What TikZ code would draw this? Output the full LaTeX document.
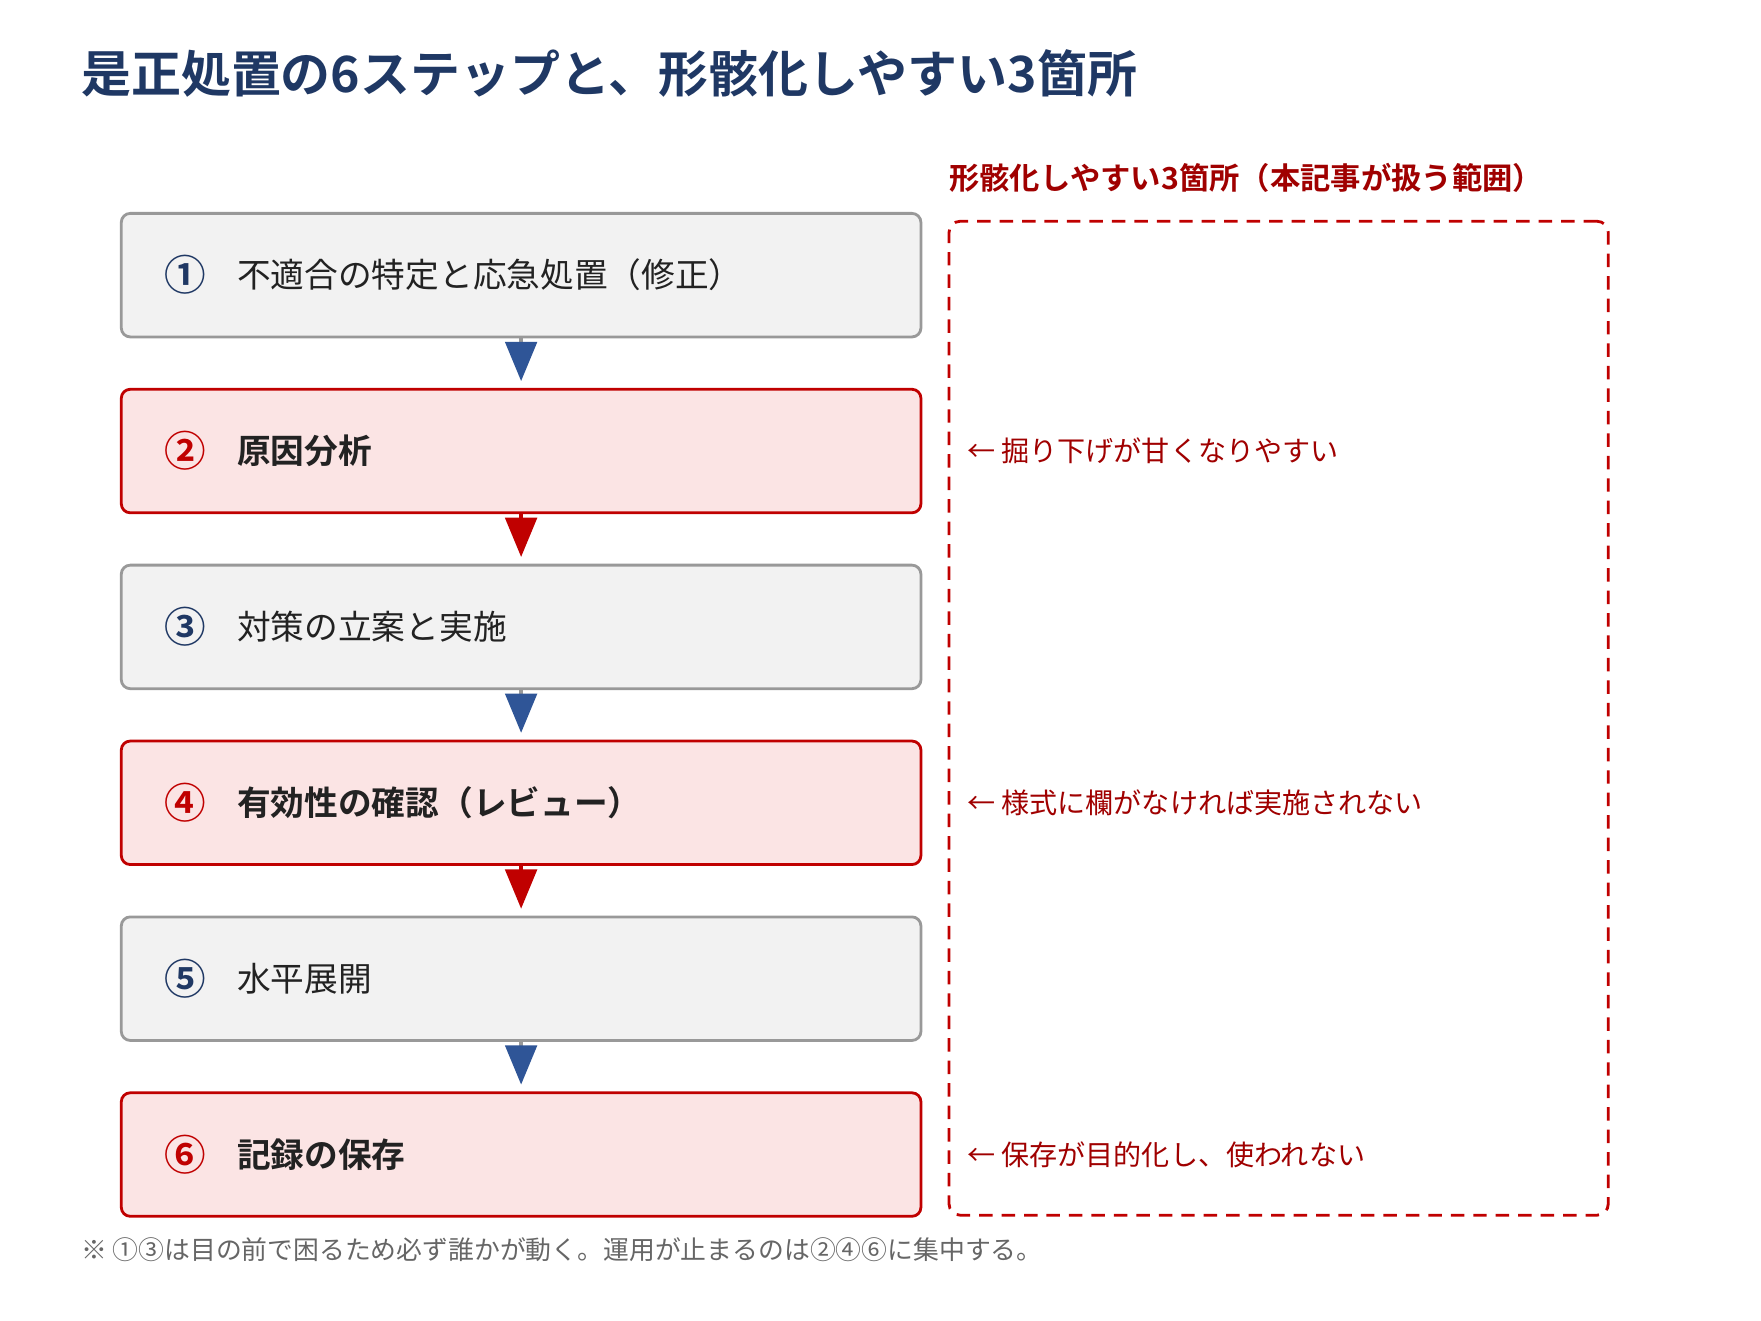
\documentclass[tikz,border=0pt]{standalone}
\usepackage{fontspec}
\setmainfont{Noto Sans CJK JP}[BoldFont={* Bold}]
\usetikzlibrary{arrows.meta}
\definecolor{navy}{HTML}{1F3864}
\definecolor{grayfill}{HTML}{F2F2F2}
\definecolor{grayline}{HTML}{999999}
\definecolor{pinkfill}{HTML}{FBE4E4}
\definecolor{redline}{HTML}{C00000}
\definecolor{arrowblue}{HTML}{2F5597}
\definecolor{annred}{HTML}{A00000}
\definecolor{bodytext}{HTML}{222222}
\definecolor{notegray}{HTML}{666666}
\tikzset{
  stepbox/.style={rectangle, rounded corners=8pt, minimum width=712pt, minimum height=110pt, line width=2.5pt, inner sep=0pt},
  graybox/.style={stepbox, draw=grayline, fill=grayfill},
  redbox/.style={stepbox, draw=redline, fill=pinkfill},
  numlabel/.style={anchor=center, inner sep=0pt, font=\fontsize{37}{42}\selectfont\bfseries},
  steptext/.style={anchor=west, inner sep=0pt, text=bodytext},
  plaintext/.style={steptext, font=\fontsize{30}{35}\selectfont},
  boldtext/.style={steptext, font=\fontsize{30}{35}\selectfont\bfseries},
  annot/.style={anchor=west, inner sep=0pt, text=annred, font=\fontsize{25}{30}\selectfont},
  bluearrow/.style={line width=3.5pt, draw=grayline, -{Triangle[width=28pt,length=35pt,color=arrowblue]}, shorten >=6pt},
  redarrow/.style={line width=3.5pt, draw=redline, -{Triangle[width=28pt,length=35pt,color=redline]}, shorten >=6pt},
}
\begin{document}
\begin{tikzpicture}[x=1pt,y=-1pt]
\useasboundingbox[fill=white] (0,0) rectangle (1568,1176.2);
% title
\node[anchor=west, inner sep=0pt, text=navy, font=\fontsize{44.5}{50}\selectfont\bfseries] (title) at (72,65) {是正処置の6ステップと、形骸化しやすい3箇所};
% subheading
\node[anchor=west, inner sep=0pt, text=annred, font=\fontsize{27}{31}\selectfont\bfseries] (sub) at (845,158) {形骸化しやすい3箇所（本記事が扱う範囲）};
% dashed region
\node[draw=redline, line width=2.5pt, dash pattern=on 12pt off 8pt, rounded corners=10pt, minimum width=587pt, minimum height=885pt, inner sep=0pt] (region) at (1138.5,639.5) {};
% boxes
\node[graybox] (b1) at (464,245) {};
\node[redbox]  (b2) at (464,401.6) {};
\node[graybox] (b3) at (464,558.2) {};
\node[redbox]  (b4) at (464,714.8) {};
\node[graybox] (b5) at (464,871.4) {};
\node[redbox]  (b6) at (464,1028) {};
% numbers and texts
\node[numlabel, text=navy]    (n1) at (165,245) {①};
\node[plaintext] (t1) at (211,245) {不適合の特定と応急処置（修正）};
\node[numlabel, text=redline] (n2) at (165,401.6) {②};
\node[boldtext] (t2) at (211,401.6) {原因分析};
\node[numlabel, text=navy]    (n3) at (165,558.2) {③};
\node[plaintext] (t3) at (211,558.2) {対策の立案と実施};
\node[numlabel, text=redline] (n4) at (165,714.8) {④};
\node[boldtext] (t4) at (211,714.8) {有効性の確認（レビュー）};
\node[numlabel, text=navy]    (n5) at (165,871.4) {⑤};
\node[plaintext] (t5) at (211,871.4) {水平展開};
\node[numlabel, text=redline] (n6) at (165,1028) {⑥};
\node[boldtext] (t6) at (211,1028) {記録の保存};
% arrows
\draw[bluearrow] (b1.south) -- (b2.north);
\draw[redarrow]  (b2.south) -- (b3.north);
\draw[bluearrow] (b3.south) -- (b4.north);
\draw[redarrow]  (b4.south) -- (b5.north);
\draw[bluearrow] (b5.south) -- (b6.north);
% annotations
\node[annot] (a2) at (861,401.6) {← 掘り下げが甘くなりやすい};
\node[annot] (a4) at (861,714.8) {← 様式に欄がなければ実施されない};
\node[annot] (a6) at (861,1028) {← 保存が目的化し、使われない};
% footnote
\node[anchor=west, inner sep=0pt, text=notegray, font=\fontsize{23}{27}\selectfont] (note) at (72,1113) {※ ①③は目の前で困るため必ず誰かが動く。運用が止まるのは②④⑥に集中する。};
\end{tikzpicture}
\end{document}
